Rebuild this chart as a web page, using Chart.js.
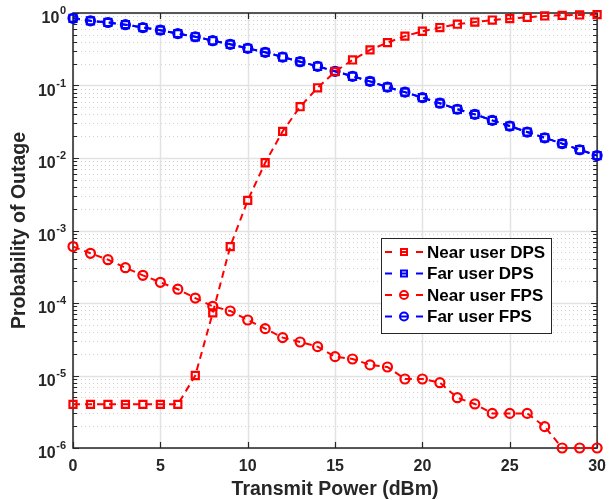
<!DOCTYPE html>
<html>
<head>
<meta charset="utf-8">
<script src="https://cdn.jsdelivr.net/npm/chart.js@4"></script>
<style>
  html, body { margin: 0; padding: 0; background: #fff; }
  #wrap { width: 615px; height: 500px; position: relative; }
</style>
</head>
<body>
<div id="wrap"><canvas id="outageChart" width="615" height="500"></canvas></div>
<script>
// --- data ---
const powerDbm = [0, 1, 2, 3, 4, 5, 6, 7, 8, 9, 10, 11, 12, 13, 14, 15, 16, 17, 18, 19, 20, 21, 22, 23, 24, 25, 26, 27, 28, 29, 30];

const nearDps = [4e-6, 4e-6, 4e-6, 4e-6, 4e-6, 4e-6, 4e-6, 1.0e-5, 7.3e-5, 6.0e-4, 2.6e-3, 8.6e-3, 0.0233, 0.051, 0.093, 0.155,
  0.225, 0.31, 0.39, 0.48, 0.56, 0.63, 0.70, 0.75, 0.80, 0.835, 0.87, 0.91, 0.93, 0.94, 0.95];
const farDps = [0.845, 0.78, 0.74, 0.69, 0.63, 0.58, 0.52, 0.47, 0.415, 0.37, 0.326, 0.287, 0.247, 0.213, 0.184, 0.157,
  0.134, 0.114, 0.095, 0.081, 0.068, 0.057, 0.047, 0.040, 0.033, 0.0276, 0.0228, 0.019, 0.0158, 0.013, 0.0108];
const nearFps = [6.0e-4, 4.85e-4, 3.96e-4, 3.07e-4, 2.41e-4, 1.93e-4, 1.55e-4, 1.17e-4, 9.0e-5, 7.76e-5, 5.83e-5, 4.43e-5,
  3.33e-5, 2.9e-5, 2.5e-5, 1.82e-5, 1.69e-5, 1.40e-5, 1.31e-5, 8.95e-6, 8.95e-6, 7.96e-6, 4.94e-6, 4.05e-6, 3.0e-6,
  3.0e-6, 3.0e-6, 1.97e-6, 1e-6, 1e-6, 1e-6];
const farFps = [0.845, 0.78, 0.74, 0.69, 0.63, 0.58, 0.52, 0.47, 0.415, 0.37, 0.326, 0.287, 0.247, 0.213, 0.184, 0.157,
  0.134, 0.114, 0.095, 0.081, 0.068, 0.057, 0.047, 0.040, 0.033, 0.0276, 0.0228, 0.019, 0.0158, 0.013, 0.0108];

const seriesLabels = ['Near user DPS', 'Far user DPS', 'Near user FPS', 'Far user FPS'];
const xTicks = [0, 5, 10, 15, 20, 25, 30];
const yDecades = [0, -1, -2, -3, -4, -5, -6];
const xTitle = 'Transmit Power (dBm)';
const yTitle = 'Probability of Outage';

const RED = '#ff0000';
const BLUE = '#0000ff';
const INK = '#262626';
const FONT = '"Liberation Sans", Arial, sans-serif';

function pts(ys) {
  return powerDbm.map((x, i) => ({ x: x, y: ys[i] }));
}

function series(label, ys, color, style, radius) {
  return {
    label: label,
    data: pts(ys),
    borderColor: color,
    backgroundColor: 'rgba(0,0,0,0)',
    borderWidth: 2,
    borderDash: [7, 5],
    pointStyle: style,
    pointRadius: radius,
    pointBorderWidth: 2.2,
    pointBorderColor: color,
    pointBackgroundColor: 'rgba(0,0,0,0)',
    tension: 0,
    fill: false,
    clip: false
  };
}

// grid, box, ticks (matlab style) drawn under the data
const axesDecor = {
  id: 'axesDecor',
  beforeDatasetsDraw(chart) {
    const { ctx, chartArea: a, scales } = chart;
    const xs = scales.x, ys = scales.y;
    ctx.save();
    // minor y grid, dotted
    ctx.strokeStyle = '#d2d2d2';
    ctx.lineWidth = 1;
    ctx.setLineDash([1, 3]);
    yDecades.forEach(d => {
      if (d === 0) return;
      for (let m = 2; m <= 9; m++) {
        const y = Math.round(ys.getPixelForValue(m * Math.pow(10, d))) + 0.5;
        ctx.beginPath(); ctx.moveTo(a.left, y); ctx.lineTo(a.right, y); ctx.stroke();
      }
    });
    // major grid
    ctx.setLineDash([]);
    ctx.strokeStyle = '#e2e2e2';
    ctx.lineWidth = 1.5;
    xTicks.forEach(v => {
      const x = Math.round(xs.getPixelForValue(v)) + 0.5;
      ctx.beginPath(); ctx.moveTo(x, a.top); ctx.lineTo(x, a.bottom); ctx.stroke();
    });
    yDecades.forEach(d => {
      const y = Math.round(ys.getPixelForValue(Math.pow(10, d))) + 0.5;
      ctx.beginPath(); ctx.moveTo(a.left, y); ctx.lineTo(a.right, y); ctx.stroke();
    });
    // box
    ctx.strokeStyle = INK;
    ctx.lineWidth = 1.5;
    ctx.strokeRect(a.left, a.top, a.right - a.left, a.bottom - a.top);
    // ticks pointing in
    ctx.lineWidth = 1.2;
    xTicks.forEach(v => {
      const x = Math.round(xs.getPixelForValue(v)) + 0.5;
      ctx.beginPath();
      ctx.moveTo(x, a.bottom); ctx.lineTo(x, a.bottom - 6);
      ctx.moveTo(x, a.top); ctx.lineTo(x, a.top + 6);
      ctx.stroke();
    });
    yDecades.forEach(d => {
      for (let m = 1; m <= 9; m++) {
        if (d === 0 && m > 1) break;
        const y = Math.round(ys.getPixelForValue(m * Math.pow(10, d))) + 0.5;
        const len = m === 1 ? 6 : 4;
        ctx.beginPath();
        ctx.moveTo(a.left, y); ctx.lineTo(a.left + len, y);
        ctx.moveTo(a.right, y); ctx.lineTo(a.right - len, y);
        ctx.stroke();
      }
    });
    ctx.restore();
  },
  afterDraw(chart) {
    const { ctx, chartArea: a, scales } = chart;
    const ys = scales.y;
    ctx.save();
    ctx.fillStyle = INK;
    // y tick labels as 10^n
    yDecades.forEach(d => {
      const y = ys.getPixelForValue(Math.pow(10, d));
      const exp = d === 0 ? '0' : '-' + (-d);
      ctx.font = 'bold 11px ' + FONT;
      const ew = ctx.measureText(exp).width;
      ctx.font = 'bold 16px ' + FONT;
      const tw = ctx.measureText('10').width;
      const right = a.left - 7;
      ctx.textBaseline = 'alphabetic';
      ctx.textAlign = 'left';
      ctx.fillText('10', right - ew - tw - 0.5, y + 10);
      ctx.font = 'bold 11px ' + FONT;
      ctx.fillText(exp, right - ew, y + 1);
    });
    // axis titles
    ctx.font = 'bold 19.5px ' + FONT;
    ctx.textAlign = 'center';
    ctx.textBaseline = 'middle';
    ctx.fillText(xTitle, (a.left + a.right) / 2, 490);
    ctx.translate(20, (a.top + a.bottom) / 2);
    ctx.rotate(-Math.PI / 2);
    ctx.fillText(yTitle, 0, 0);
    ctx.restore();

    // legend box inside the axes
    const lx = 381, ly = 238, lw = 170, lh = 95;
    ctx.save();
    ctx.fillStyle = '#fff';
    ctx.fillRect(lx, ly, lw, lh);
    ctx.strokeStyle = INK;
    ctx.lineWidth = 1;
    ctx.strokeRect(lx + 0.5, ly + 0.5, lw, lh);
    chart.data.datasets.forEach((ds, i) => {
      const y = ly + 14 + i * 21.5;
      ctx.strokeStyle = ds.borderColor;
      ctx.lineWidth = 2;
      ctx.beginPath();
      ctx.moveTo(385, y); ctx.lineTo(392, y);
      ctx.moveTo(416, y); ctx.lineTo(423, y);
      ctx.moveTo(400, y); ctx.lineTo(408, y);
      ctx.stroke();
      ctx.beginPath();
      if (ds.pointStyle === 'rect') {
        ctx.rect(401, y - 3, 6, 6);
      } else {
        ctx.arc(404, y, 4, 0, Math.PI * 2);
      }
      ctx.stroke();
      ctx.fillStyle = '#000';
      ctx.font = 'bold 17px ' + FONT;
      ctx.textAlign = 'left';
      ctx.textBaseline = 'middle';
      ctx.fillText(ds.label, 427, y + 1);
    });
    ctx.restore();
  }
};

const ctx = document.getElementById('outageChart').getContext('2d');
const outageChart = new Chart(ctx, {
  type: 'line',
  data: {
    datasets: [
      series(seriesLabels[0], nearDps, RED, 'rect', 5),
      series(seriesLabels[1], farDps, BLUE, 'rect', 5),
      series(seriesLabels[2], nearFps, RED, 'circle', 4.5),
      series(seriesLabels[3], farFps, BLUE, 'circle', 4.5)
    ]
  },
  options: {
    responsive: false,
    animation: false,
    layout: { padding: { left: 0, top: 13, right: 16, bottom: 0 } },
    plugins: { legend: { display: false }, tooltip: { enabled: false } },
    scales: {
      x: {
        type: 'linear',
        min: 0,
        max: 30,
        afterBuildTicks: s => { s.ticks = xTicks.map(v => ({ value: v })); },
        afterFit: s => { s.height = 52; },
        grid: { display: false, drawTicks: false },
        border: { display: false },
        ticks: { color: INK, font: { family: FONT, size: 16, weight: 'bold' }, padding: 9, maxRotation: 0 }
      },
      y: {
        type: 'logarithmic',
        min: 1e-6,
        max: 1,
        afterFit: s => { s.width = 73; },
        grid: { display: false, drawTicks: false },
        border: { display: false },
        ticks: { display: false }
      }
    }
  },
  plugins: [axesDecor]
});
</script>
</body>
</html>
